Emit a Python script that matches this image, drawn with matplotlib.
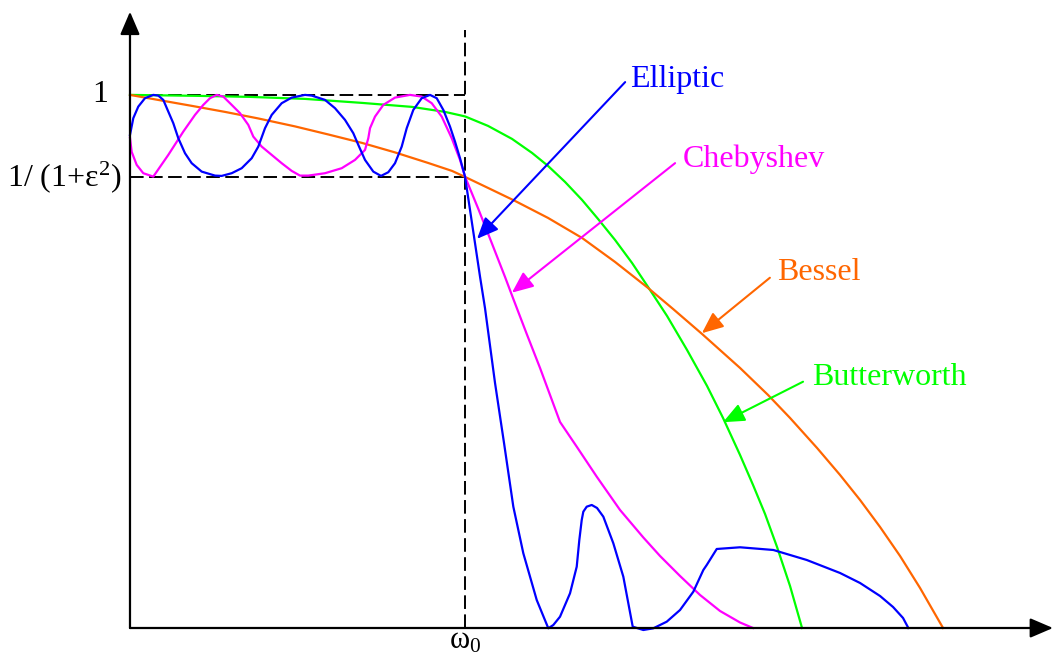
# filter_responses.py

import numpy as np
import matplotlib
matplotlib.use('Agg')
import matplotlib.pyplot as plt

plt.rcParams['font.family'] = ['Liberation Serif', 'DejaVu Serif']
plt.rcParams['mathtext.fontset'] = 'custom'
plt.rcParams['mathtext.rm'] = 'Liberation Serif'
plt.rcParams['mathtext.it'] = 'Liberation Serif'

# raw readings: frequency with w0 = 335, gain with passband top = 533
W0 = 335.0
G0 = 533.0
RIPPLE = 451.0

butter_f = [0, 70, 120, 175, 232, 282, 315, 335, 358, 382, 402, 418, 435, 452, 468,
            485, 502, 518, 537, 557, 577, 593, 610, 623, 635, 647, 660, 672]
butter_g = [533, 532, 531, 529, 525, 521, 516, 511.5, 502, 489, 475, 462, 446, 428, 409,
            388, 365, 341, 312, 278, 242, 210, 173, 143, 114, 81, 42, 0]

bessel_f = [0, 28, 62, 95, 128, 165, 198, 232, 265, 298, 322, 335, 358, 385, 418, 452,
            485, 518, 543, 572, 610, 638, 660, 687, 710, 730, 750, 770, 790, 813]
bessel_g = [533, 528, 522, 516, 509.5, 501.5, 493.5, 485, 475.5, 465, 457, 451, 440, 427,
            410, 390, 366, 340, 319, 294, 260, 233, 210, 180, 153, 128, 101, 72, 40, 0]

cheby_f = [0, 1.7, 6.7, 13.3, 23.3, 38.3, 53.3, 65, 73.3, 80, 86.7, 93.3, 101.7, 110,
           118.3, 123.3, 131.7, 141.7, 151.7, 161.7, 170, 178.3, 195, 211.7, 225, 235,
           238.3, 240, 245, 253.3, 265, 280, 291.7, 301.7, 311.7, 321.7, 330, 335,
           348.3, 361.7, 375, 383.3, 396.7, 410, 420, 430, 446.7, 466.7, 490, 513.3,
           530, 550, 570, 590, 610, 623]
cheby_g = [490, 476, 463, 454.7, 451.3, 473, 496.3, 513, 523, 529.7, 533, 531.3, 523,
           514.7, 503, 491.3, 481.3, 473, 464.7, 457, 452.3, 452.3, 454.7, 459.7, 468,
           478, 489.7, 499.7, 511.3, 523, 530.3, 533, 531.3, 524.7, 511.3, 489.7, 468,
           451.3, 419, 385, 351, 329, 294, 260, 233, 206, 181.3, 151.3, 118,
           90.5, 72, 52, 33, 17, 5.5, 0]

ellip_f = [0, 3.3, 8.3, 15, 23.3, 28.3, 33.3, 38.3, 43.3, 48.3, 55, 61.7, 71.7, 85, 91.7,
           101.7, 111.7, 121.7, 128.3, 135, 141.7, 151.7, 161.7, 175, 181.7, 195, 205,
           215, 223.3, 228.3, 235, 243.3, 251, 258.3, 265, 271.7, 276.7, 283.3, 291.7,
           300, 306.7, 313.3, 320, 325, 330, 335, 340, 345, 350, 355, 365, 374, 383.3,
           393.3, 406.7, 418.3, 423.3, 430, 440, 446.7, 449.3, 451.7, 453.3, 456.7,
           461.7, 467, 473.3, 483.3, 493.3, 502.7, 513.3, 523.3, 536.7, 550, 563.3,
           573.3, 576.7, 586.7, 610, 643.3, 676.7, 710, 730, 750, 763, 773, 778.3]
ellip_g = [493, 509.7, 521.3, 529.7, 533, 532.3, 528, 516.3, 504.7, 489.7, 474.7, 464.7,
           456.3, 452.3, 452, 454.7, 459.7, 469.7, 481.3, 499.7, 513, 524.7, 530.3, 533,
           532.3, 528, 519.7, 508, 494.7, 483, 468, 456.3, 452, 455.7, 464.7, 481.3,
           499.7, 518, 529.7, 533, 529.7, 518, 501.3, 486.3, 469.7, 451.3, 418, 384.7,
           351.3, 319.7, 245, 185, 121.3, 74.7, 28, -0.3, 3, 11.3, 34.7, 61.3, 88, 108,
           116.3, 121.3, 123, 120, 111.3, 84.7, 51.3, 1.3, -2, -0.3, 6.3, 18, 36.3, 58,
           63, 79, 80.7, 78, 68, 55, 45, 32, 21, 10, 0]

# label text, arrow tip, arrow tail, text anchor, colour (normalised units)
labels = [
    ('Elliptic', (1.036, 0.730), (1.478, 1.024), (1.493, 1.015), '#0000FF'),
    ('Chebyshev', (1.140, 0.629), (1.627, 0.872), (1.651, 0.865), '#FF00FF'),
    ('Bessel', (1.707, 0.553), (1.910, 0.657), (1.931, 0.653), '#FF6600'),
    ('Butterworth', (1.770, 0.386), (2.009, 0.462), (2.036, 0.456), '#00FF00'),
]

ripple = RIPPLE / G0

fig = plt.figure(figsize=(10.56, 6.57), dpi=100)
ax = fig.add_axes([0, 0, 1, 1])
ax.set_xlim(-0.388, 2.764)
ax.set_ylim(-0.0544, 1.178)
ax.axis('off')

# axes with arrow heads
axis_arrow = dict(arrowstyle='-|>,head_length=0.7,head_width=0.3', color='black',
                  lw=1.6, mutation_scale=20, shrinkA=0, shrinkB=0)
ax.annotate('', xy=(0, 1.156), xytext=(0, 0), arrowprops=axis_arrow)
ax.annotate('', xy=(2.755, 0), xytext=(0, 0), arrowprops=axis_arrow)

# guide lines
dash = (0, (7, 2.8))
ax.plot([0, 1], [1, 1], color='black', lw=1.4, linestyle=dash)
ax.plot([0, 1], [ripple, ripple], color='black', lw=1.4, linestyle=dash)
ax.plot([1, 1], [0, 1.122], color='black', lw=1.4, linestyle=dash)

# response curves
curves = [
    (butter_f, butter_g, '#00FF00'),
    (bessel_f, bessel_g, '#FF6600'),
    (cheby_f, cheby_g, '#FF00FF'),
    (ellip_f, ellip_g, '#0000FF'),
]
for f, g, col in curves:
    ax.plot(np.array(f) / W0, np.array(g) / G0, color=col, lw=1.6,
            solid_joinstyle='round')

for name, tip, tail, txt, col in labels:
    ax.annotate('', xy=tip, xytext=tail,
                arrowprops=dict(arrowstyle='-|>,head_length=0.65,head_width=0.28',
                                color=col, lw=1.5, mutation_scale=20,
                                shrinkA=0, shrinkB=0))
    ax.text(txt[0], txt[1], name, color=col, fontsize=23, ha='left', va='baseline')

ax.text(-0.066, 1.0, '1', fontsize=23, ha='right', va='center')
ax.text(-0.024, ripple, r'1/ (1+ε$^{2}$)', fontsize=23, ha='right', va='center')
ax.text(1.0, -0.052, r'ω$_{0}$', fontsize=22, ha='center', va='bottom')

fig.savefig('out.png', dpi=100)
